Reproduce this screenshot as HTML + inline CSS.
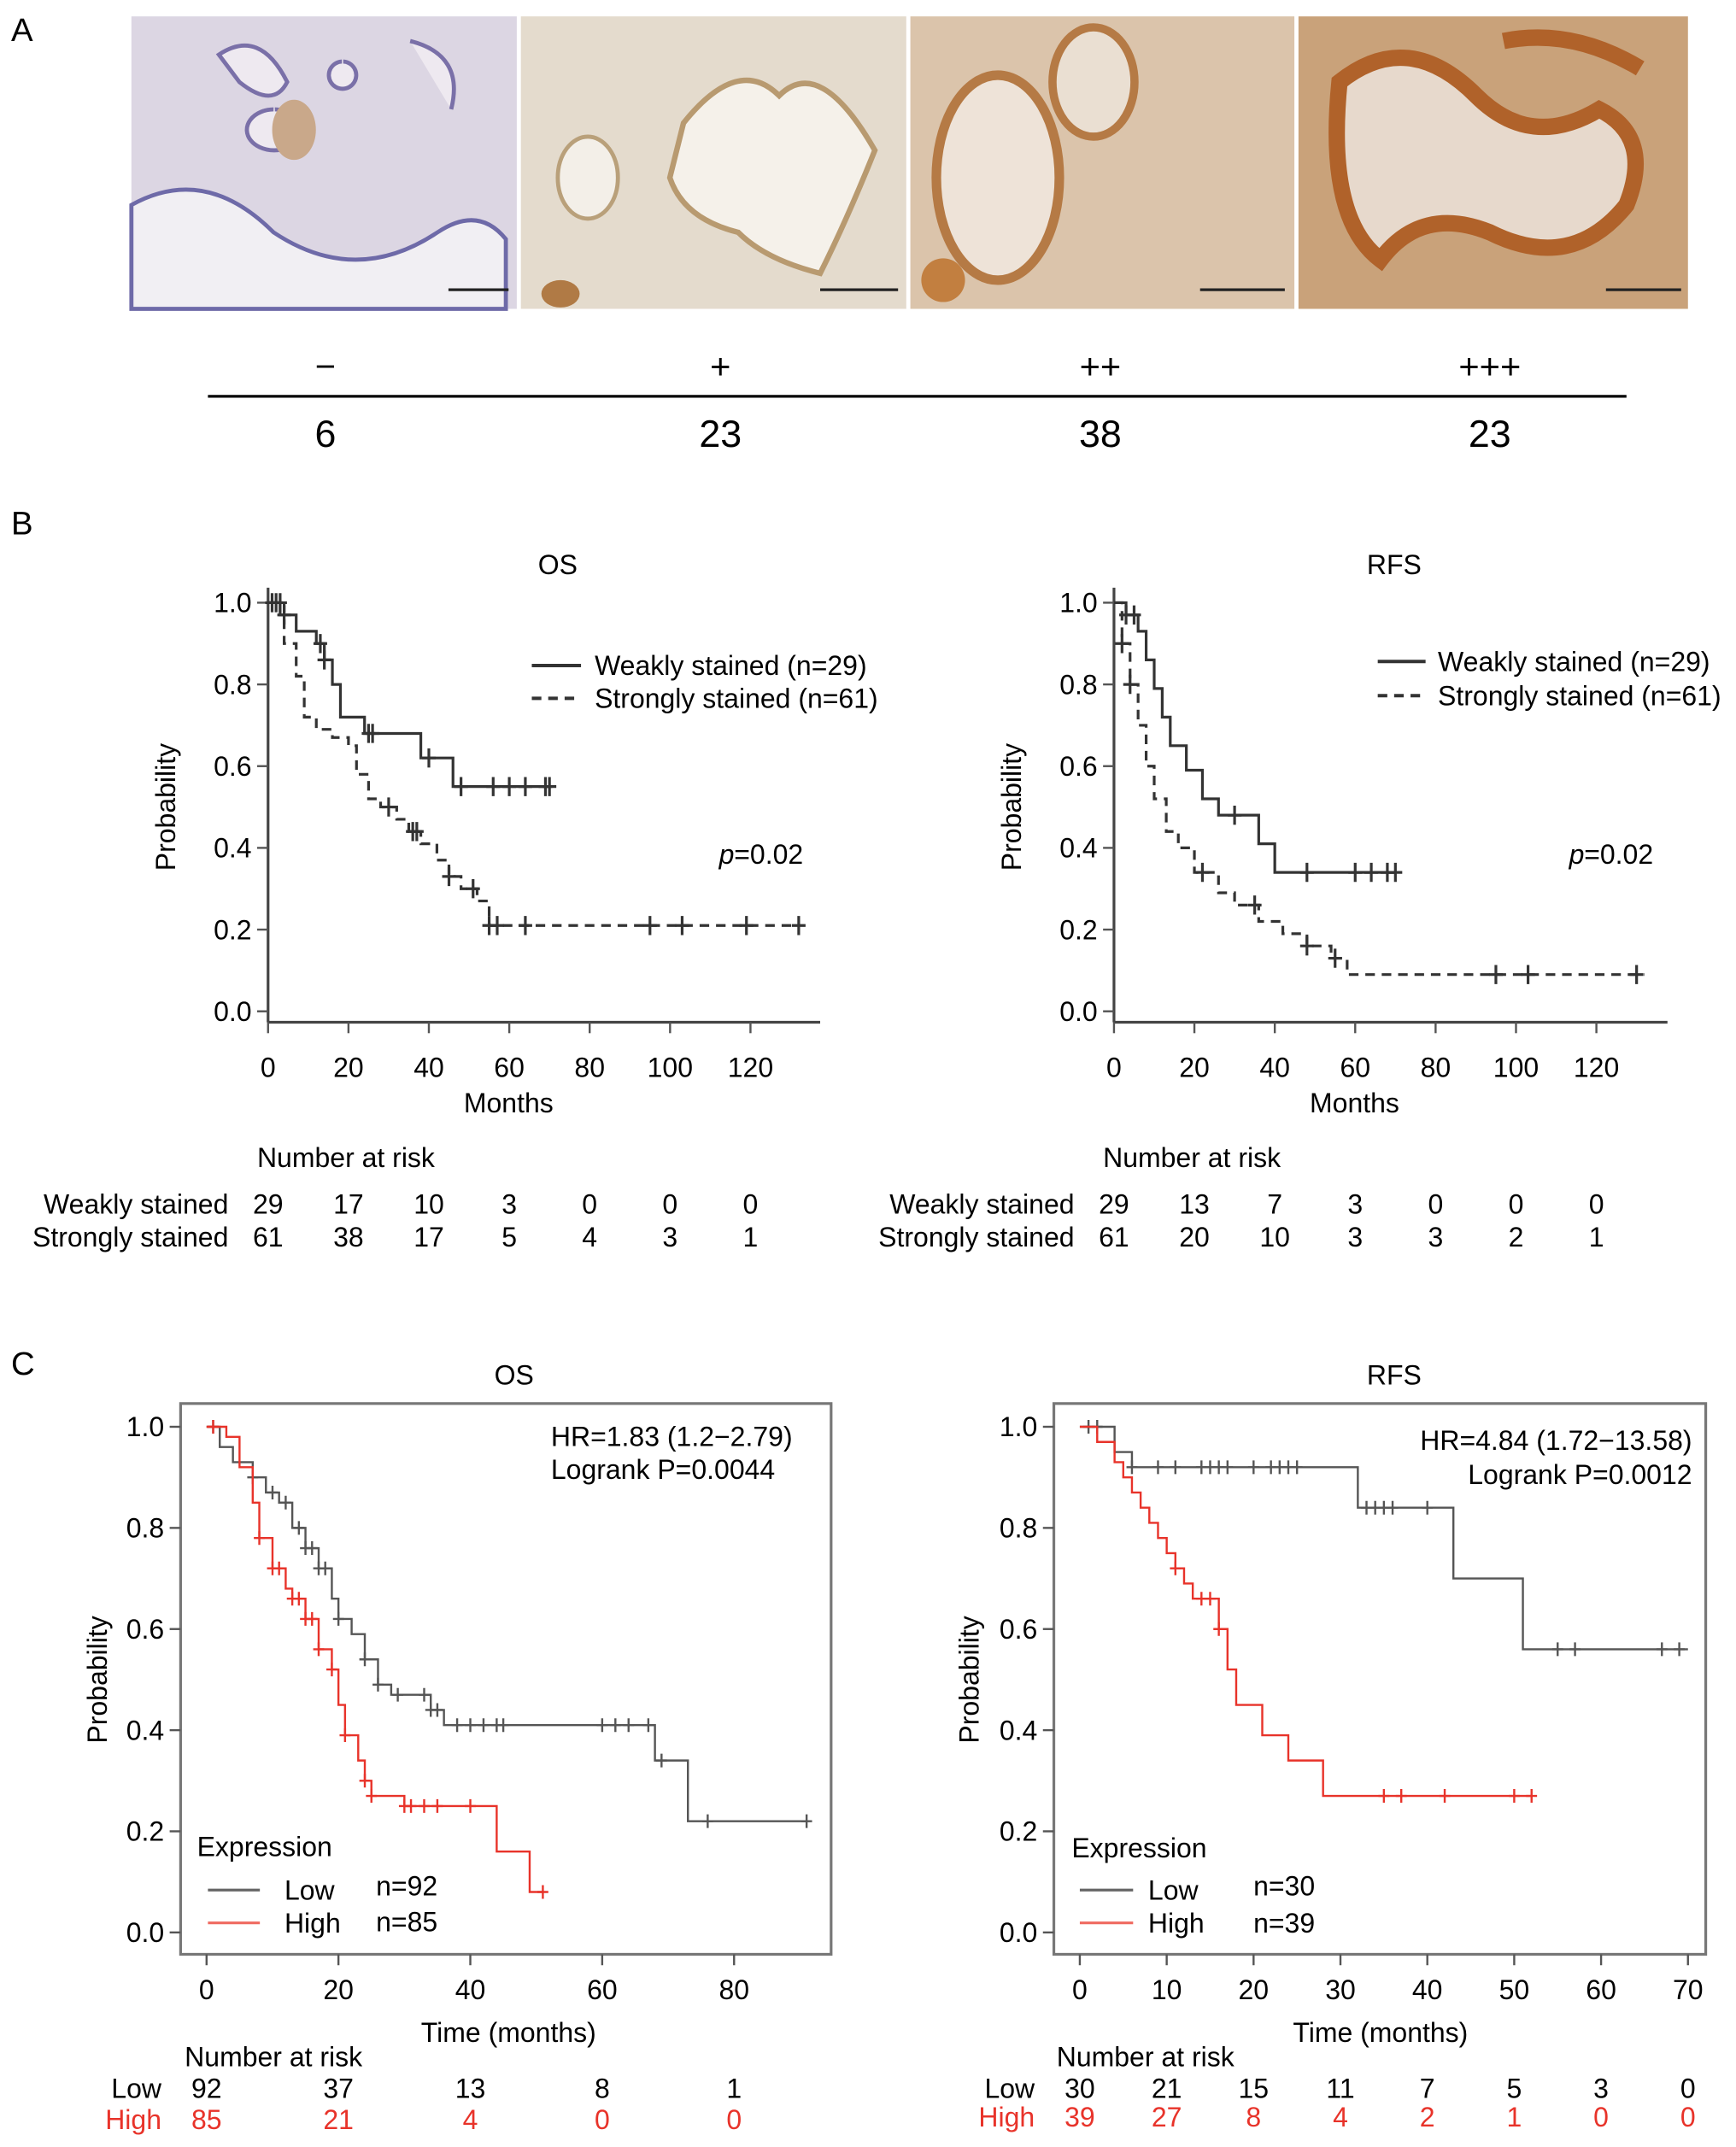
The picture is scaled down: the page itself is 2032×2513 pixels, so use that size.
<!DOCTYPE html>
<html><head><meta charset="utf-8"><style>
html,body{margin:0;padding:0;background:#fff}
svg{display:block;font-family:"Liberation Sans",Arial,sans-serif}
</style></head><body>
<svg id="fig" width="2032" height="2513" viewBox="0 0 1270 1571" xmlns="http://www.w3.org/2000/svg">
<!-- Panel A -->
<text x="8" y="30" font-size="24">A</text>
<g>
 <rect x="96" y="12" width="282" height="214" fill="#dcd6e3"/>
 <path d="M96 150 Q150 120 200 170 Q260 210 320 170 Q350 150 370 175 L370 226 L96 226Z" fill="#f1eff3" stroke="#6e6aa8" stroke-width="3"/>
 <path d="M160 40 Q190 20 210 60 Q200 80 175 60Z M250 45 a10 10 0 1 0 1 0 M300 30 Q340 40 330 80 M200 80 a20 15 0 1 0 1 0" fill="#eee9f0" stroke="#7a70a8" stroke-width="3"/>
 <ellipse cx="215" cy="95" rx="16" ry="22" fill="#c9a88a"/>
 <line x1="328" y1="212" x2="372" y2="212" stroke="#222" stroke-width="2"/>
 <rect x="381" y="12" width="282" height="214" fill="#e4dbcd"/>
 <path d="M500 90 Q540 40 570 70 Q600 40 640 110 Q620 160 600 200 Q560 190 540 170 Q500 160 490 130Z" fill="#f5f1ea" stroke="#b89a70" stroke-width="4"/>
 <ellipse cx="430" cy="130" rx="22" ry="30" fill="#f3efe8" stroke="#b9a07a" stroke-width="3"/>
 <ellipse cx="410" cy="215" rx="14" ry="10" fill="#b07a45"/>
 <line x1="600" y1="212" x2="657" y2="212" stroke="#222" stroke-width="2"/>
 <rect x="666" y="12" width="281" height="214" fill="#dbc4ab"/>
 <ellipse cx="730" cy="130" rx="45" ry="75" fill="#eee3d8" stroke="#b57a45" stroke-width="7"/>
 <ellipse cx="800" cy="60" rx="30" ry="40" fill="#eadfd2" stroke="#b57a45" stroke-width="6"/>
 <circle cx="690" cy="205" r="16" fill="#c27f40"/>
 <line x1="878" y1="212" x2="940" y2="212" stroke="#222" stroke-width="2"/>
 <rect x="950" y="12" width="285" height="214" fill="#c9a27a"/>
 <path d="M980 60 Q1030 20 1080 70 Q1120 110 1170 80 Q1210 100 1190 150 Q1150 200 1090 170 Q1040 150 1010 190 Q970 160 980 60Z" fill="#e7d9cc" stroke="#b0622a" stroke-width="12"/>
 <path d="M1100 30 Q1150 20 1200 50" fill="none" stroke="#b0622a" stroke-width="12"/>
 <line x1="1175" y1="212" x2="1230" y2="212" stroke="#222" stroke-width="2"/>
</g>
<g font-size="26" text-anchor="middle">
 <text x="238" y="277">−</text><text x="527" y="277">+</text><text x="805" y="277">++</text><text x="1090" y="277">+++</text>
 <line x1="152" y1="290" x2="1190" y2="290" stroke="#000" stroke-width="2"/>
 <text x="238" y="327" font-size="28">6</text><text x="527" y="327" font-size="28">23</text><text x="805" y="327" font-size="28">38</text><text x="1090" y="327" font-size="28">23</text>
</g>
<text x="8" y="391" font-size="24">B</text>
<text x="8" y="1006" font-size="24">C</text>
<g id="charts"></g>
</svg>
<script>
// ---- Data ----
const bOsWeak = [[0,1],[3,0.97],[7,0.93],[12,0.9],[14,0.86],[16,0.8],[18,0.72],[24,0.68],[38,0.62],[46,0.55],[70,0.55]];
const bOsWeakCens = [2,4,13,14,25,26,40,48,56,60,64,69,70];
const bOsStrong = [[0,1],[4,0.9],[7,0.82],[9,0.72],[12,0.69],[16,0.67],[20,0.65],[22,0.58],[25,0.52],[28,0.5],[32,0.47],[35,0.44],[38,0.41],[42,0.37],[45,0.33],[48,0.3],[52,0.27],[55,0.21],[132,0.21]];
const bOsStrongCens = [1,3,30,36,37,45,51,55,57,64,95,103,119,132];
const bRfsWeak = [[0,1],[3,0.97],[6,0.93],[8,0.86],[10,0.79],[12,0.72],[14,0.65],[18,0.59],[22,0.52],[26,0.48],[36,0.41],[40,0.34],[70,0.34]];
const bRfsWeakCens = [3,5,30,48,60,64,68,70];
const bRfsStrong = [[0,1],[2,0.9],[4,0.8],[6,0.7],[8,0.6],[10,0.52],[13,0.44],[16,0.4],[20,0.34],[26,0.29],[30,0.26],[36,0.22],[42,0.19],[48,0.16],[54,0.13],[58,0.09],[132,0.09]];
const bRfsStrongCens = [2,4,22,35,48,55,95,103,130];
const cOsLow = [[0,1],[2,0.96],[4,0.93],[7,0.9],[9,0.87],[11,0.85],[13,0.8],[15,0.76],[17,0.72],[19,0.66],[20,0.62],[22,0.59],[24,0.54],[26,0.49],[28,0.47],[34,0.44],[36,0.41],[68,0.34],[73,0.22],[91,0.22]];
const cOsLowCens = [1,7,10,12,14,15,16,17,18,20,24,26,29,33,34,35,38,40,42,44,45,60,62,64,67,69,76,91];
const cOsHigh = [[0,1],[3,0.98],[5,0.92],[7,0.85],[8,0.78],[10,0.72],[12,0.68],[13,0.66],[15,0.62],[17,0.56],[19,0.52],[20,0.45],[21,0.39],[23,0.34],[24,0.3],[25,0.27],[30,0.25],[44,0.16],[49,0.08],[51,0.08]];
const cOsHighCens = [1,8,10,11,13,14,15,16,17,19,21,24,25,30,31,33,35,40,51];
const cRfsLow = [[0,1],[4,0.95],[6,0.92],[32,0.84],[43,0.7],[51,0.56],[70,0.56]];
const cRfsLowCens = [1,2,6,9,11,14,15,16,17,20,22,23,24,25,33,34,35,36,40,55,57,67,69];
const cRfsHigh = [[0,1],[2,0.97],[4,0.93],[5,0.9],[6,0.87],[7,0.84],[8,0.81],[9,0.78],[10,0.75],[11,0.72],[12,0.69],[13,0.66],[16,0.6],[17,0.52],[18,0.45],[21,0.39],[24,0.34],[28,0.27],[52,0.27]];
const cRfsHighCens = [11,14,15,16,35,37,42,50,52];
const bXTicks = [0,20,40,60,80,100,120];
const cOsXTicks = [0,20,40,60,80];
const cRfsXTicks = [0,10,20,30,40,50,60,70];
const yTicks = [0,0.2,0.4,0.6,0.8,1.0];
const bOsRiskWeak = [29,17,10,3,0,0,0], bOsRiskStrong = [61,38,17,5,4,3,1];
const bRfsRiskWeak = [29,13,7,3,0,0,0], bRfsRiskStrong = [61,20,10,3,3,2,1];
const cOsRiskLow = [92,37,13,8,1], cOsRiskHigh = [85,21,4,0,0];
const cRfsRiskLow = [30,21,15,11,7,5,3,0], cRfsRiskHigh = [39,27,8,4,2,1,0,0];

const FS=20;
const NS="http://www.w3.org/2000/svg";
const root=document.getElementById('charts');
function mk(tag,attrs,parent,text){const e=document.createElementNS(NS,tag);for(const k in attrs)e.setAttribute(k,attrs[k]);if(text!==undefined)e.textContent=text;(parent||root).appendChild(e);return e;}
function stepPath(data,sx,sy){let d='M'+sx(data[0][0])+' '+sy(data[0][1]);for(let i=1;i<data.length;i++){d+=' H'+sx(data[i][0])+' V'+sy(data[i][1]);}return d;}
function survAt(data,t){let s=data[0][1];for(const p of data){if(p[0]<=t)s=p[1];}return s;}

function chart(o){
 const g=mk('g',{});
 
 
 const sx=t=>o.x0+(t-o.t0)*(o.x1-o.x0)/(o.tmax);
 const sy=v=>o.y0+(1-v)*(o.y1-o.y0);
 if(o.box){const b=mk('rect',{x:o.box[0],y:o.box[1],width:o.box[2],height:o.box[3],fill:'none',stroke:'#777','stroke-width':2},g);}
 else{
  const ya=mk('line',{x1:o.axX,y1:o.axTop,x2:o.axX,y2:o.axY,stroke:'#444','stroke-width':2},g);
  const xa=mk('line',{x1:o.axX,y1:o.axY,x2:o.axRight,y2:o.axY,stroke:'#444','stroke-width':2},g);
 }
 const tickY=o.box?o.box[1]+o.box[3]:o.axY, tickX=o.box?o.box[0]:o.axX;
 o.xt.forEach(t=>{mk('line',{x1:sx(t),y1:tickY,x2:sx(t),y2:tickY+8,stroke:'#555','stroke-width':1.5},g);const tl=mk('text',{x:sx(t),y:tickY+o.xlabOff,'font-size':FS,'text-anchor':'middle'},g,String(t));});
 yTicks.forEach(v=>{mk('line',{x1:tickX-8,y1:sy(v),x2:tickX,y2:sy(v),stroke:'#555','stroke-width':1.5},g);const tl=mk('text',{x:tickX-12,y:sy(v)+7,'font-size':FS,'text-anchor':'end'},g,v.toFixed(1));});
 const yt=mk('text',{x:0,y:0,'font-size':FS,'text-anchor':'middle',transform:`translate(${o.ylabX},${(o.y0+o.y1)/2}) rotate(-90)`},g,'Probability');
 const xtt=mk('text',{x:o.xTitle[0],y:o.xTitle[1],'font-size':FS,'text-anchor':'middle'},g,o.xTitleText);
 const tt=mk('text',{x:o.title[0],y:o.title[1],'font-size':FS,'text-anchor':'middle'},g,o.titleText);
 o.series.forEach(s=>{
  const p=mk('path',{d:stepPath(s.data,sx,sy),fill:'none',stroke:s.color,'stroke-width':s.w,'stroke-dasharray':s.dash||'none'},g);
  
  
  s.cens.forEach(t=>{const x=sx(t),y=sy(survAt(s.data,t));const c=mk('path',{d:`M${x} ${y-s.ch} V${y+s.ch} M${x-s.cw} ${y} H${x+s.cw}`,stroke:s.color,'stroke-width':s.w,fill:'none'},g);});
 });
 o.texts.forEach(t=>{const e=mk('text',{x:t[0],y:t[1],'font-size':t[3]||FS,'text-anchor':t[4]||'start',fill:t[5]||'#000','font-style':t[6]||'normal'},g,t[2]);});
 o.legend.forEach(l=>{const e=mk('line',{x1:l[0],y1:l[1],x2:l[2],y2:l[1],stroke:l[3],'stroke-width':l[4],'stroke-dasharray':l[5]||'none'},g);});
 o.risk.forEach(r=>{r.vals.forEach((v,i)=>{const e=mk('text',{x:sx(r.ticks[i])+(r.dx||0),y:r.y,'font-size':FS,'text-anchor':'middle',fill:r.color},g,String(v));});});
}
// B OS
chart({name:'b-os-chart',x0:196,x1:549,t0:0,tmax:120,y0:441,y1:740,axX:196,axTop:430,axY:748,axRight:600,xt:bXTicks,xlabOff:40,ylabX:128,
 xTitle:[372,814],xTitleText:'Months',title:[408,420],titleText:'OS',
 series:[{name:'weakly-stained',data:bOsWeak,cens:bOsWeakCens,color:'#333',w:2,ch:7,cw:5},{name:'strongly-stained',data:bOsStrong,cens:bOsStrongCens,color:'#333',w:2,dash:'7,5',ch:7,cw:5}],
 texts:[[435,494,'Weakly stained (n=29)'],[435,518,'Strongly stained (n=61)'],[526,632,'p',FS,'start','#000','italic'],[537,632,'=0.02'],[253,854,'Number at risk',FS,'middle'],[167,888,'Weakly stained',FS,'end'],[167,912,'Strongly stained',FS,'end']],
 legend:[[389,487,425,'#333',2.5],[389,511,425,'#333',2.5,'7,5']],
 risk:[{vals:bOsRiskWeak,ticks:bXTicks,y:888,color:'#000'},{vals:bOsRiskStrong,ticks:bXTicks,y:912,color:'#000'}]});
// B RFS
chart({name:'b-rfs-chart',x0:815,x1:1168,t0:0,tmax:120,y0:441,y1:740,axX:815,axTop:430,axY:748,axRight:1220,xt:bXTicks,xlabOff:40,ylabX:747,
 xTitle:[991,814],xTitleText:'Months',title:[1020,420],titleText:'RFS',
 series:[{name:'weakly-stained',data:bRfsWeak,cens:bRfsWeakCens,color:'#333',w:2,ch:7,cw:5},{name:'strongly-stained',data:bRfsStrong,cens:bRfsStrongCens,color:'#333',w:2,dash:'7,5',ch:7,cw:5}],
 texts:[[1052,491,'Weakly stained (n=29)'],[1052,516,'Strongly stained (n=61)'],[1148,632,'p',FS,'start','#000','italic'],[1159,632,'=0.02'],[872,854,'Number at risk',FS,'middle'],[786,888,'Weakly stained',FS,'end'],[786,912,'Strongly stained',FS,'end']],
 legend:[[1008,484,1043,'#333',2.5],[1008,509,1043,'#333',2.5,'7,5']],
 risk:[{vals:bRfsRiskWeak,ticks:bXTicks,y:888,color:'#000'},{vals:bRfsRiskStrong,ticks:bXTicks,y:912,color:'#000'}]});
// C OS
chart({name:'c-os-chart',x0:151,x1:537,t0:0,tmax:80,y0:1044,y1:1414,box:[132,1027,476,403],xt:cOsXTicks,xlabOff:33,ylabX:78,
 xTitle:[372,1494],xTitleText:'Time (months)',title:[376,1013],titleText:'OS',
 series:[{name:'low-expression',data:cOsLow,cens:cOsLowCens,color:'#555',w:1.5,ch:5,cw:4},{name:'high-expression',data:cOsHigh,cens:cOsHighCens,color:'#e8332a',w:1.5,ch:5,cw:4}],
 texts:[[403,1058,'HR=1.83 (1.2−2.79)'],[403,1082,'Logrank P=0.0044'],[144,1358,'Expression'],[208,1390,'Low'],[275,1387,'n=92'],[208,1414,'High'],[275,1413,'n=85'],[135,1512,'Number at risk'],[118,1535,'Low',FS,'end'],[118,1558,'High',FS,'end','#e8332a']],
 legend:[[152,1383,190,'#666',2],[152,1407,190,'#ef6a60',2]],
 risk:[{vals:cOsRiskLow,ticks:cOsXTicks,y:1535,color:'#000'},{vals:cOsRiskHigh,ticks:cOsXTicks,y:1558,color:'#e8332a'}]});
// C RFS
chart({name:'c-rfs-chart',x0:790,x1:1235,t0:0,tmax:70,y0:1044,y1:1414,box:[771,1027,477,403],xt:cRfsXTicks,xlabOff:33,ylabX:716,
 xTitle:[1010,1494],xTitleText:'Time (months)',title:[1020,1013],titleText:'RFS',
 series:[{name:'low-expression',data:cRfsLow,cens:cRfsLowCens,color:'#555',w:1.5,ch:5,cw:4},{name:'high-expression',data:cRfsHigh,cens:cRfsHighCens,color:'#e8332a',w:1.5,ch:5,cw:4}],
 texts:[[1238,1061,'HR=4.84 (1.72−13.58)',FS,'end'],[1238,1086,'Logrank P=0.0012',FS,'end'],[784,1359,'Expression'],[840,1390,'Low'],[917,1387,'n=30'],[840,1414,'High'],[917,1414,'n=39'],[773,1512,'Number at risk'],[757,1535,'Low',FS,'end'],[757,1556,'High',FS,'end','#e8332a']],
 legend:[[790,1383,829,'#666',2],[790,1407,829,'#ef6a60',2]],
 risk:[{vals:cRfsRiskLow,ticks:cRfsXTicks,y:1535,color:'#000'},{vals:cRfsRiskHigh,ticks:cRfsXTicks,y:1556,color:'#e8332a'}]});
</script>
</body></html>
